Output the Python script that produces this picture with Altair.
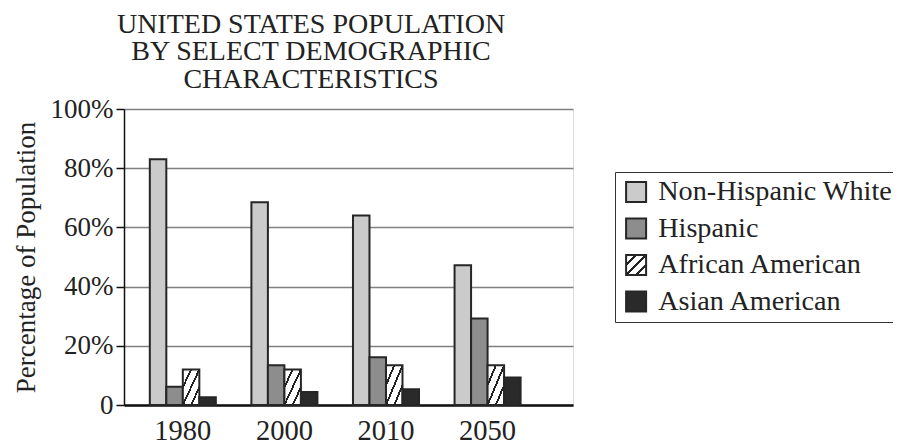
import altair as alt
import pandas as pd

years = ["1980", "2000", "2010", "2050"]
groups = ["Non-Hispanic White", "Hispanic", "African American", "Asian American"]
non_hispanic_white = [83, 68.5, 64, 47.2]
hispanic = [6.2, 13.4, 16.1, 29.2]
african_american = [12, 12, 13.4, 13.4]
asian_american = [2.6, 4.4, 5.3, 9.3]

series = [non_hispanic_white, hispanic, african_american, asian_american]
rows = []
for g, vals in zip(groups, series):
    for y, v in zip(years, vals):
        rows.append({"year": y, "group": g, "value": v})
df = pd.DataFrame(rows)

FONT = "Liberation Serif"
INK = "#222222"

hatch = (
    "{gradient: 'linear', x1: 0, y1: 0, x2: 1, y2: 1, stops: ["
    "{offset: 0, color: 'white'},"
    "{offset: 0.22, color: 'white'}, {offset: 0.22, color: '#222'},"
    "{offset: 0.28, color: '#222'}, {offset: 0.28, color: 'white'},"
    "{offset: 0.47, color: 'white'}, {offset: 0.47, color: '#222'},"
    "{offset: 0.53, color: '#222'}, {offset: 0.53, color: 'white'},"
    "{offset: 0.72, color: 'white'}, {offset: 0.72, color: '#222'},"
    "{offset: 0.78, color: '#222'}, {offset: 0.78, color: 'white'},"
    "{offset: 1, color: 'white'}]}"
)

chart = (
    alt.Chart(df)
    .mark_bar(stroke="#262626", strokeWidth=2)
    .encode(
        x=alt.X(
            "year:N",
            sort=years,
            scale=alt.Scale(paddingInner=0.35, paddingOuter=0.385, align=0.33),
            axis=alt.Axis(
                title=None,
                labelAngle=0,
                ticks=False,
                grid=False,
                domainColor="#111111",
                domainWidth=2.5,
                labelFont=FONT,
                labelFontSize=28.5,
                labelColor=INK,
                labelPadding=11,
            ),
        ),
        xOffset=alt.XOffset("group:N", sort=groups, scale=alt.Scale(paddingInner=0, paddingOuter=0)),
        y=alt.Y(
            "value:Q",
            scale=alt.Scale(domain=[0, 100], nice=False),
            axis=alt.Axis(
                values=[0, 20, 40, 60, 80, 100],
                labelExpr="datum.value == 0 ? '0' : datum.value + '%'",
                tickColor="#111111",
                tickSize=8,
                tickWidth=1.5,
                domainColor="#111111",
                domainWidth=1.5,
                gridColor="#808080",
                gridWidth=1.5,
                labelFont=FONT,
                labelFontSize=27,
                labelColor=INK,
                labelPadding=3,
                title="Percentage of Population",
                titleFont=FONT,
                titleFontSize=27,
                titleFontWeight="normal",
                titleColor=INK,
                titlePadding=10,
            ),
        ),
        color=alt.Color(
            "group:N",
            sort=groups,
            scale=alt.Scale(
                domain=groups,
                range=["#cbcbcb", "#8d8d8d", {"expr": hatch}, "#2a2a2a"],
            ),
            legend=alt.Legend(
                title=None,
                orient="none",
                legendX=491,
                legendY=63,
                symbolType="square",
                symbolSize=400,
                symbolStrokeColor="#262626",
                symbolStrokeWidth=2,
                symbolOffset=1,
                labelFont=FONT,
                labelFontSize=28.2,
                labelColor=INK,
                labelOffset=8,
                labelLimit=0,
                rowPadding=6.5,
                padding=6,
                strokeColor="#333333",
            ),
        ),
    )
    .properties(
        width=449,
        height=296,
        autosize=alt.AutoSizeParams(type="none"),
        padding={"left": 116, "top": 101, "right": 320, "bottom": 40},
        title=alt.TitleParams(
            text=["UNITED STATES POPULATION", "BY SELECT DEMOGRAPHIC", "CHARACTERISTICS"],
            font=FONT,
            fontSize=28,
            fontWeight="normal",
            color=INK,
            lineHeight=27.7,
            anchor="middle",
            dx=-37.5,
            dy=3,
        ),
    )
    .configure_view(stroke=None)
    .configure_legend(strokeWidth=2)
    .configure(background="white")
)

chart.save("out.html", embed_options={"renderer": "svg", "actions": False})
